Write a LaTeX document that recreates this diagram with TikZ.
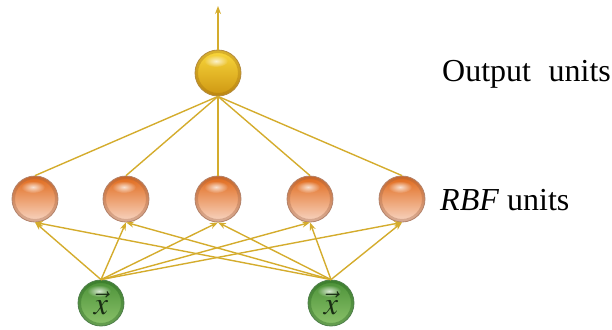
\documentclass[tikz,border=0pt]{standalone}
\usepackage{mathptmx}
\usepackage{fontspec}
\setmainfont{Liberation Serif}
\usetikzlibrary{arrows.meta,fadings}
\tikzfading[name=hlfade, inner color=transparent!0, outer color=transparent!100]
\definecolor{linkc}{RGB}{212,172,45}
\definecolor{goldtop}{RGB}{250,216,60}
\definecolor{goldbot}{RGB}{205,150,18}
\definecolor{goldedge}{RGB}{160,110,15}
\definecolor{ortop}{RGB}{224,104,24}
\definecolor{orbot}{RGB}{248,214,196}
\definecolor{oredge}{RGB}{160,100,70}
\definecolor{grtop}{RGB}{75,145,55}
\definecolor{grbot}{RGB}{140,195,108}
\definecolor{gredge}{RGB}{35,95,30}
\definecolor{xcol}{RGB}{25,45,20}
\begin{document}
\begin{tikzpicture}[x=1pt,y=-1pt,
  link/.style={draw=linkc, line width=1.4pt},
  arr/.style={link, -{Stealth[length=8pt,width=6pt]}},
  sphere/.style n args={3}{circle, minimum size=46pt, inner sep=0pt, draw=#3!80, line width=0.8pt,
    path picture={
      \shade[top color=#1, bottom color=#2] (path picture bounding box.south west) rectangle (path picture bounding box.north east);
      \draw[#3, line width=4pt, opacity=0.35] (path picture bounding box.center) circle (22pt);
      \fill[white, opacity=0.75, path fading=hlfade] ([xshift=-2pt,yshift=12pt]path picture bounding box.center) ellipse (12pt and 6pt);
    }},
  lbl/.style={anchor=base west, font=\fontsize{32}{34}\selectfont, inner sep=0pt}]
\useasboundingbox (0,0) rectangle (612,329);
\node[sphere={goldtop}{goldbot}{goldedge}] (out) at (218,73) {};
\foreach \i/\x in {1/35,2/126,3/218,4/310,5/402}
  \node[sphere={ortop}{orbot}{oredge}] (r\i) at (\x,199) {};
\node[sphere={grtop}{grbot}{gredge}, text=xcol, font=\fontsize{32}{32}\selectfont] (i1) at (101,303) {$\vec{x}$};
\node[sphere={grtop}{grbot}{gredge}, text=xcol, font=\fontsize{32}{32}\selectfont] (i2) at (331,303) {$\vec{x}$};
\coordinate (top) at (218,6);
\draw[arr] (out.north) -- (top);
\foreach \i in {1,...,5} {
  \draw[link] (r\i.north) -- (out.south);
  \draw[arr] (i1.north) -- (r\i.south);
  \draw[arr] (i2.north) -- (r\i.south);
}
\node[lbl] (outlbl) at (442,81) {Output\hspace{0.55em}units};
\node[lbl] (rbflbl) at (440,210) {\textit{RBF} units};
\end{tikzpicture}
\end{document}
